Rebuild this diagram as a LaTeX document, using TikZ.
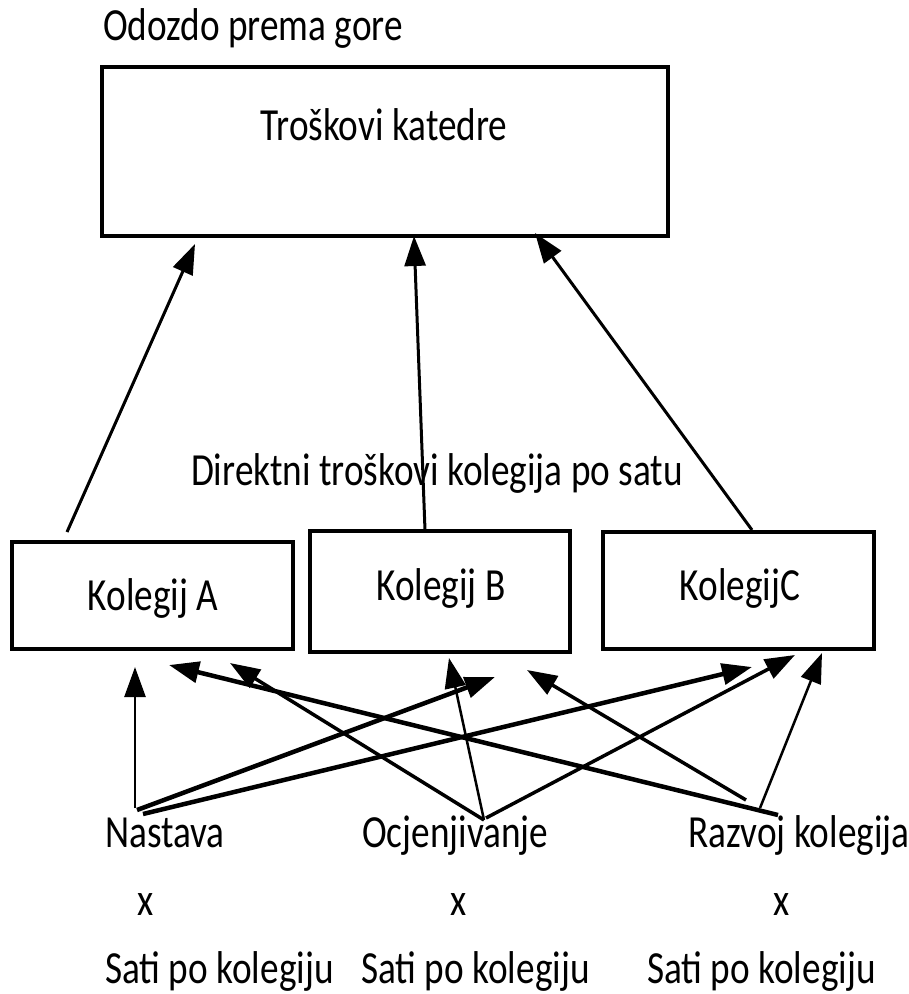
\documentclass[tikz,border=0pt]{standalone}
\usepackage{fontspec}
\setmainfont{Carlito}[FakeStretch=0.81]
\usetikzlibrary{arrows.meta}
\begin{document}
\begin{tikzpicture}[x=1pt,y=-1pt,
  txt/.style={inner sep=0pt,anchor=base west,font=\fontsize{46}{54}\selectfont},
  ctxt/.style={inner sep=0pt,anchor=base,font=\fontsize{46}{54}\selectfont},
  box/.style={draw,line width=3.5pt,inner sep=0pt},
  arr/.style={-{Triangle[length=30pt,width=21pt]},line width=3pt},
  thin/.style={line width=2.5pt},
  mid/.style={line width=3.5pt},
  thick/.style={line width=4.5pt}]
\useasboundingbox (0,0) rectangle (909,994);
% title
\node[txt] (title) at (103,40) {Odozdo prema gore};
% top box
\node[box,minimum width=566pt,minimum height=169pt] (top) at (385,151.5) {};
\node[ctxt] (toptxt) at (384,140) {Troškovi katedre};
% middle label
\node[ctxt] (direkt) at (437,485) {Direktni troškovi kolegija po satu};
% course boxes
\node[box,minimum width=281pt,minimum height=107pt] (ka) at (152.5,595.5) {};
\node[ctxt] (katxt) at (153,610) {Kolegij A};
\node[box,minimum width=260pt,minimum height=121pt] (kb) at (440,591.5) {};
\node[ctxt] (kbtxt) at (441,600) {Kolegij B};
\node[box,minimum width=271pt,minimum height=117pt] (kc) at (738.5,590.5) {};
\node[ctxt] (kctxt) at (740,600) {KolegijC};
% activity labels
\node[txt] (nast) at (105,847) {Nastava};
\node[txt] (ocj) at (362,847) {Ocjenjivanje};
\node[txt] (razv) at (688,847) {Razvoj kolegija};
\node[ctxt] (x1) at (146,915) {x};
\node[ctxt] (x2) at (459,915) {x};
\node[ctxt] (x3) at (782,915) {x};
\node[txt] (s1) at (105,983) {Sati po kolegiju};
\node[txt] (s2) at (361,983) {Sati po kolegiju};
\node[txt] (s3) at (647,983) {Sati po kolegiju};
% connector end points
\coordinate (kaT) at (67,532);
\coordinate (kbT) at (425,530);
\coordinate (kcT) at (752,530);
\coordinate (topA) at (195,244);
\coordinate (topB) at (414,236);
\coordinate (topC) at (535,233);
\coordinate (n1) at (135,808);
\coordinate (n2) at (137,810);
\coordinate (n3) at (143,814);
\coordinate (o1) at (484,820);
\coordinate (o2) at (486,818);
\coordinate (r1) at (778,815);
\coordinate (r2) at (746,800);
\coordinate (r3) at (760,808);
\coordinate (aN) at (135,667);
\coordinate (bN) at (495,677);
\coordinate (cN) at (752,667);
\coordinate (aO) at (230,663);
\coordinate (bO) at (449,658);
\coordinate (cO) at (795,655);
\coordinate (aR) at (169,665);
\coordinate (bR) at (527,670);
\coordinate (cR) at (822,653);
% top arrows
\draw[arr] (kaT) -- (topA);
\draw[arr] (kbT) -- (topB);
\draw[arr] (kcT) -- (topC);
% bottom arrows
\draw[arr,thin] (n1) -- (aN);
\draw[arr,thick] (n2) -- (bN);
\draw[arr,thick] (n3) -- (cN);
\draw[arr,mid] (o1) -- (aO);
\draw[arr,thin] (o1) -- (bO);
\draw[arr,mid] (o2) -- (cO);
\draw[arr,thick] (r1) -- (aR);
\draw[arr,mid] (r2) -- (bR);
\draw[arr,thin] (r3) -- (cR);
\end{tikzpicture}
\end{document}
